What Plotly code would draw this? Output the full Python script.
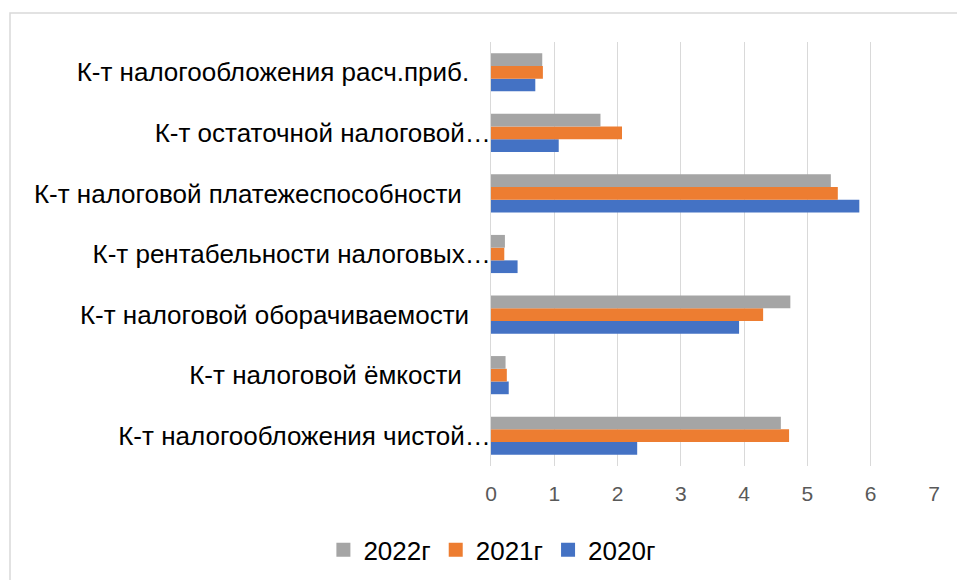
import plotly.graph_objects as go

NB = "\u00a0"
categories = [
    "К-т налогообложения чистой…",
    "К-т налоговой ёмкости" + NB * 4,
    "К-т налоговой оборачиваемости" + NB * 3,
    "К-т рентабельности налоговых…",
    "К-т налоговой платежеспособности" + NB * 4,
    "К-т остаточной налоговой…",
    "К-т налогообложения расч.приб." + NB * 3,
]
v2020 = [2.31, 0.28, 3.92, 0.42, 5.82, 1.07, 0.70]
v2021 = [4.71, 0.25, 4.30, 0.21, 5.48, 2.07, 0.82]
v2022 = [4.58, 0.23, 4.73, 0.22, 5.37, 1.73, 0.81]
series_names = ["2020г", "2021г", "2022г"]
colors = ["#4472C4", "#ED7D31", "#A5A5A5"]
x_ticks = [0, 1, 2, 3, 4, 5, 6, 7]

fig = go.Figure()
for name, vals, col in zip(series_names, [v2020, v2021, v2022], colors):
    fig.add_trace(go.Bar(
        y=categories, x=vals, name=name, orientation="h",
        marker=dict(color=col, line=dict(width=0)),
        showlegend=False,
    ))
# legend entries with larger square swatches, 2022 first
for name, col in reversed(list(zip(series_names, colors))):
    fig.add_trace(go.Scatter(
        x=[None], y=[None], mode="markers", name=name,
        marker=dict(symbol="square", size=14, color=col),
    ))

fig.update_layout(
    width=957, height=580,
    margin=dict(l=491, r=23, t=42, b=114),
    paper_bgcolor="white", plot_bgcolor="white",
    barmode="group", bargap=0.37, bargroupgap=0,
    font=dict(family="Liberation Sans, Arial, sans-serif", color="#000000"),
    showlegend=True,
    legend=dict(
        orientation="h",
        xref="container", yref="container",
        x=0.514, xanchor="center", y=0.052, yanchor="middle",
        font=dict(size=26, color="#000000"),
        itemwidth=30, tracegroupgap=0,
    ),
    xaxis=dict(
        range=[0, 7], tickvals=x_ticks, ticktext=[str(t) for t in x_ticks],
        showgrid=True, gridcolor="#D9D9D9", gridwidth=1,
        zeroline=False, showline=False,
        tickfont=dict(size=21, color="#595959"),
        ticks="", ticklabelstandoff=13,
    ),
    yaxis=dict(
        showgrid=False, zeroline=False, showline=True, linecolor="#D9D9D9",
        tickfont=dict(size=26, color="#000000"), ticks="",
        ticklabelstandoff=-6,
    ),
    shapes=[dict(
        type="rect", xref="paper", yref="paper",
        x0=(10 - 491) / 443, x1=(970 - 491) / 443,
        y0=(466 - 600) / 424, y1=(466 - 13) / 424,
        line=dict(color="#D9D9D9", width=1.5), fillcolor="rgba(0,0,0,0)",
        layer="below",
    )],
)

fig.write_html("out.html", config={"displayModeBar": False},
               post_script="document.body.style.margin='0';")
